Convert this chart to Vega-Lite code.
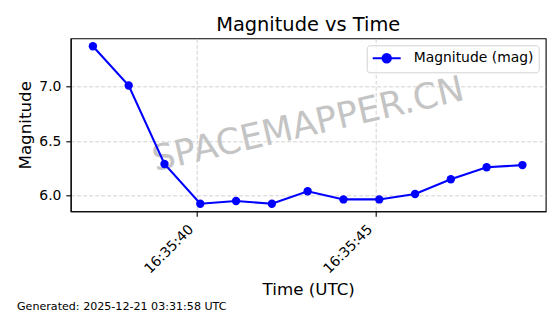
{
  "$schema": "https://vega.github.io/schema/vega-lite/v6.json",
  "width": 475,
  "height": 173,
  "autosize": {"type": "none"},
  "padding": {"left": 70.7, "top": 38.3, "right": 14.3, "bottom": 102.7},
  "background": "white",
  "title": {
    "text": "Magnitude vs Time",
    "frame": "group",
    "anchor": "middle",
    "baseline": "alphabetic",
    "offset": -11.7,
    "fontSize": 19.4,
    "font": "DejaVu Sans",
    "fontWeight": "normal",
    "color": "black"
  },
  "config": {
    "font": "DejaVu Sans",
    "view": {"stroke": "black", "strokeWidth": 1.1},
    "axis": {
      "domainColor": "black",
      "domainWidth": 1.1,
      "tickColor": "black",
      "tickWidth": 1.1,
      "tickSize": 4.9,
      "labelFont": "DejaVu Sans",
      "labelFontSize": 13.9,
      "labelColor": "black",
      "labelPadding": 4.9,
      "titleFont": "DejaVu Sans",
      "titleFontSize": 16.7,
      "titleFontWeight": "normal",
      "titleColor": "black",
      "gridColor": "#c8c8c8",
      "gridDash": [4, 2],
      "gridWidth": 0.8
    }
  },
  "data": {
    "values": [
      {"time": "2025-12-20T16:35:37.100Z", "magnitude": 7.37, "series": "Magnitude (mag)"},
      {"time": "2025-12-20T16:35:38.100Z", "magnitude": 7.01, "series": "Magnitude (mag)"},
      {"time": "2025-12-20T16:35:39.100Z", "magnitude": 6.29, "series": "Magnitude (mag)"},
      {"time": "2025-12-20T16:35:40.100Z", "magnitude": 5.925, "series": "Magnitude (mag)"},
      {"time": "2025-12-20T16:35:41.100Z", "magnitude": 5.95, "series": "Magnitude (mag)"},
      {"time": "2025-12-20T16:35:42.100Z", "magnitude": 5.925, "series": "Magnitude (mag)"},
      {"time": "2025-12-20T16:35:43.100Z", "magnitude": 6.04, "series": "Magnitude (mag)"},
      {"time": "2025-12-20T16:35:44.100Z", "magnitude": 5.965, "series": "Magnitude (mag)"},
      {"time": "2025-12-20T16:35:45.100Z", "magnitude": 5.965, "series": "Magnitude (mag)"},
      {"time": "2025-12-20T16:35:46.100Z", "magnitude": 6.015, "series": "Magnitude (mag)"},
      {"time": "2025-12-20T16:35:47.100Z", "magnitude": 6.15, "series": "Magnitude (mag)"},
      {"time": "2025-12-20T16:35:48.100Z", "magnitude": 6.26, "series": "Magnitude (mag)"},
      {"time": "2025-12-20T16:35:49.100Z", "magnitude": 6.28, "series": "Magnitude (mag)"}
    ]
  },
  "layer": [
    {
      "data": {"values": [{"label": "SPACEMAPPER.CN"}]},
      "mark": {
        "type": "text",
        "angle": -13,
        "fontSize": 35.5,
        "font": "DejaVu Sans",
        "color": "#c4c4c4",
        "align": "center",
        "baseline": "middle"
      },
      "encoding": {
        "x": {
          "datum": {"year": 2025, "month": 12, "date": 20, "hours": 16, "minutes": 35, "seconds": 43, "milliseconds": 115, "utc": true},
          "type": "temporal",
          "title": "Time (UTC)",
          "scale": {
            "type": "utc",
            "domain": [
              {"year": 2025, "month": 12, "date": 20, "hours": 16, "minutes": 35, "seconds": 36, "milliseconds": 480, "utc": true},
              {"year": 2025, "month": 12, "date": 20, "hours": 16, "minutes": 35, "seconds": 49, "milliseconds": 750, "utc": true}
            ]
          }
        },
        "y": {
          "datum": 6.65,
          "type": "quantitative",
          "title": "Magnitude",
          "scale": {"domain": [5.856, 7.443], "nice": false, "zero": false}
        },
        "text": {"field": "label"}
      }
    },
    {
      "mark": {"type": "line", "strokeWidth": 2.1},
      "encoding": {
        "x": {
          "field": "time",
          "type": "temporal",
          "title": "Time (UTC)",
          "scale": {
            "type": "utc",
            "domain": [
              {"year": 2025, "month": 12, "date": 20, "hours": 16, "minutes": 35, "seconds": 36, "milliseconds": 480, "utc": true},
              {"year": 2025, "month": 12, "date": 20, "hours": 16, "minutes": 35, "seconds": 49, "milliseconds": 750, "utc": true}
            ]
          },
          "axis": {
            "values": [
              {"year": 2025, "month": 12, "date": 20, "hours": 16, "minutes": 35, "seconds": 40, "utc": true},
              {"year": 2025, "month": 12, "date": 20, "hours": 16, "minutes": 35, "seconds": 45, "utc": true}
            ],
            "format": "%H:%M:%S",
            "labelAngle": -45,
            "labelAlign": "right",
            "labelBaseline": "middle",
            "labelOffset": -5.8,
            "labelPadding": 10.7,
            "titlePadding": 6,
            "grid": true
          }
        },
        "y": {
          "field": "magnitude",
          "type": "quantitative",
          "title": "Magnitude",
          "scale": {"domain": [5.856, 7.443], "nice": false, "zero": false},
          "axis": {
            "values": [6.0, 6.5, 7.0],
            "format": ".1f",
            "titlePadding": 4,
            "grid": true
          }
        },
        "color": {
          "field": "series",
          "type": "nominal",
          "scale": {"range": ["#0000ff"]},
          "legend": {
            "title": null,
            "orient": "top-right",
            "offset": 7,
            "padding": 5,
            "strokeColor": "#d3d3d3",
            "cornerRadius": 3,
            "fillColor": "rgba(255,255,255,0.8)",
            "labelFont": "DejaVu Sans",
            "labelFontSize": 13.9,
            "labelColor": "black",
            "labelOffset": 19,
            "symbolOffset": 7,
            "symbolType": "M-2,0L2,0M0.6,0A0.6,0.6,0,1,1,-0.6,0A0.6,0.6,0,1,1,0.6,0Z",
            "symbolSize": 196,
            "symbolStrokeWidth": 2,
            "symbolFillColor": "#0000ff",
            "symbolStrokeColor": "#0000ff"
          }
        }
      }
    },
    {
      "mark": {"type": "point", "filled": true, "size": 70, "color": "#0000ff", "opacity": 1},
      "encoding": {
        "x": {"field": "time", "type": "temporal", "title": "Time (UTC)"},
        "y": {"field": "magnitude", "type": "quantitative", "title": "Magnitude"}
      }
    },
    {
      "data": {"values": [{"label": "Generated: 2025-12-21 03:31:58 UTC"}]},
      "mark": {
        "type": "text",
        "fontSize": 11.1,
        "font": "DejaVu Sans",
        "color": "black",
        "align": "left",
        "baseline": "alphabetic"
      },
      "encoding": {
        "x": {
          "datum": {"year": 2025, "month": 12, "date": 20, "hours": 16, "minutes": 35, "seconds": 34, "milliseconds": 980, "utc": true},
          "type": "temporal",
          "title": "Time (UTC)"
        },
        "y": {"datum": 4.948, "type": "quantitative", "title": "Magnitude"},
        "text": {"field": "label"}
      }
    }
  ]
}
